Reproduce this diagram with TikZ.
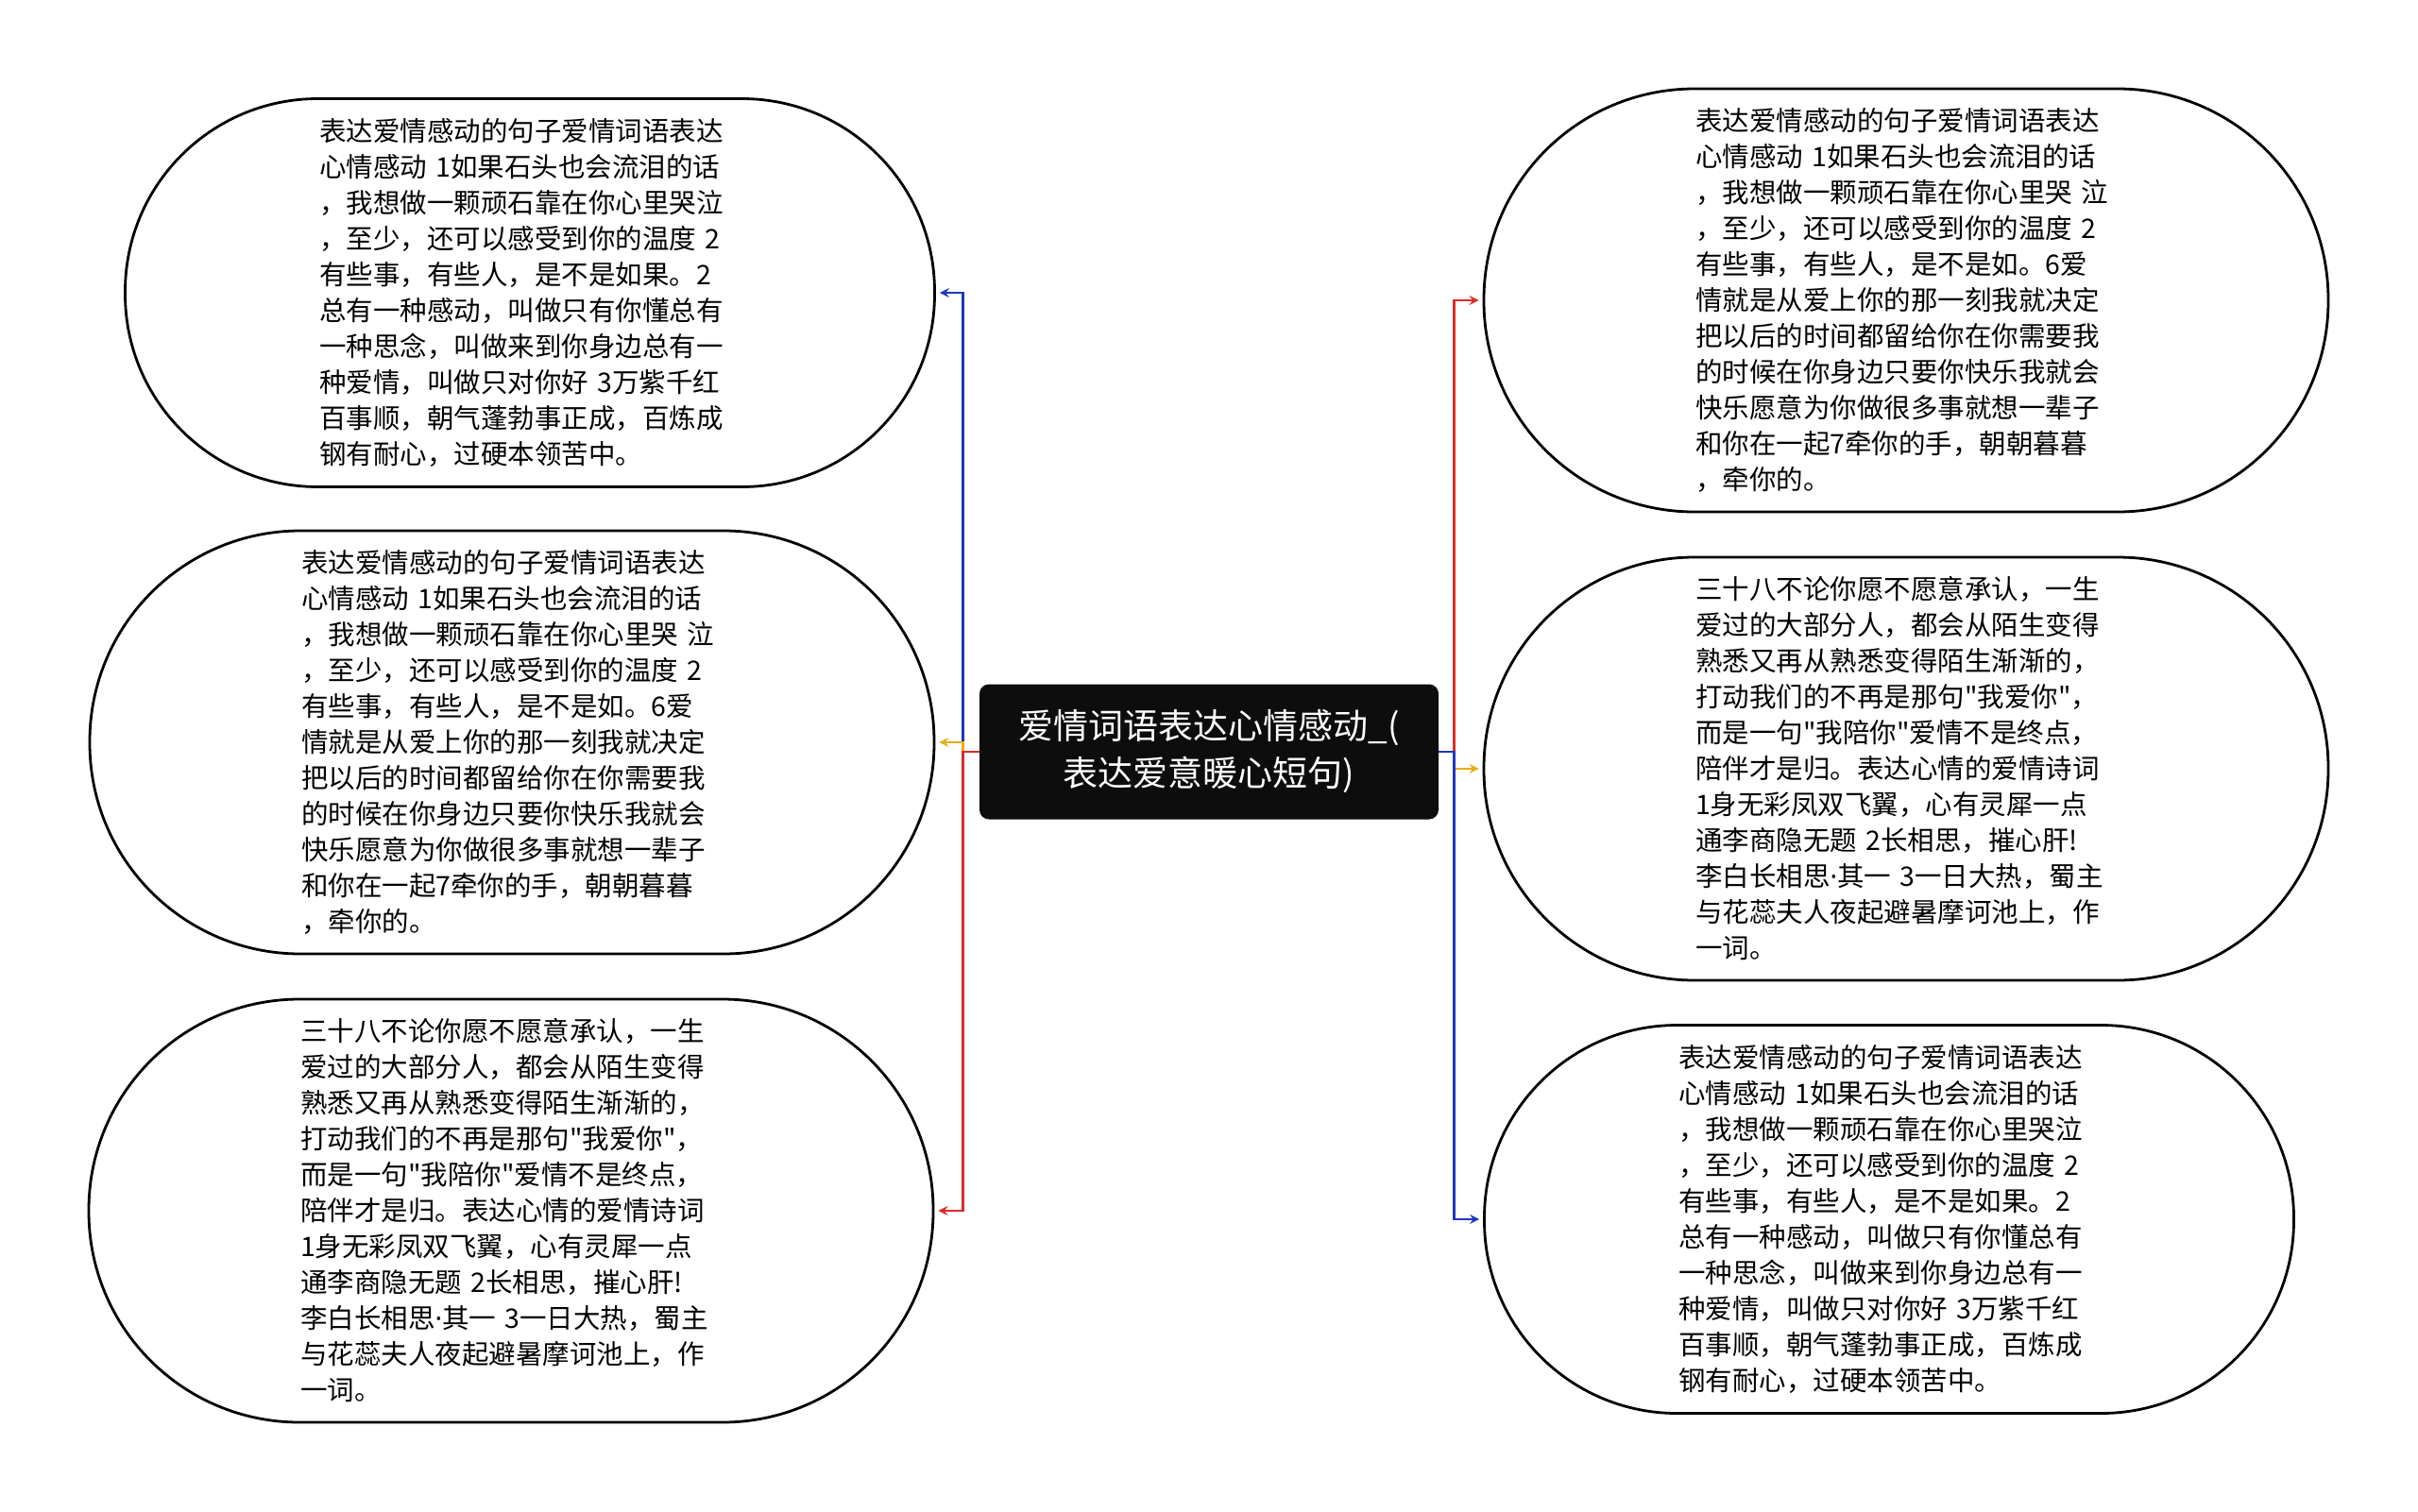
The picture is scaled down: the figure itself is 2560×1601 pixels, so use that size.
\documentclass[tikz,border=0pt]{standalone}
\usepackage{fontspec}
\newfontfamily\cjk{Noto Sans CJK SC}
\newfontfamily\latin{Noto Sans}
\definecolor{edgeblue}{RGB}{30,55,190}
\definecolor{edgered}{RGB}{215,45,40}
\definecolor{edgeyellow}{RGB}{232,172,20}
\definecolor{rootfill}{RGB}{13,13,13}

\begin{document}
\begin{tikzpicture}[x=0.5pt,y=-0.5pt]
    % Define styles
    \tikzstyle{topic}=[rectangle,draw,line width=1.4pt,fill=white,inner sep=0pt,text width=223pt,align=left,font=\cjk\fontsize{14.25}{19}\selectfont]
    \tikzstyle{topicten}=[topic,minimum width=428.5pt,minimum height=205.5pt,rounded corners=102pt]
    \tikzstyle{topiceleven}=[topic,minimum width=447pt,minimum height=224pt,rounded corners=111.5pt]
    \tikzstyle{root}=[rectangle,rounded corners=5pt,fill=rootfill,text=white,minimum width=243pt,minimum height=71.5pt,align=center,font=\cjk\fontsize{18.5}{25}\selectfont]
    \tikzstyle{blueedge}=[line width=1.2pt,->,>=stealth,color=edgeblue,shorten >=2pt]
    \tikzstyle{rededge}=[line width=1.2pt,->,>=stealth,color=edgered,shorten >=2pt]
    \tikzstyle{yellowedge}=[line width=1.2pt,->,>=stealth,color=edgeyellow,shorten >=2pt]

    \useasboundingbox (0,0) rectangle (2560,1601);

    % Draw the root
    \node[root] (0) at (1280,796) {爱情词语表达心情感动\_(\\表达爱意暖心短句)};

    % Draw the left nodes
    \node[topicten] (1) at (561,310) {表达爱情感动的句子爱情词语表达\\心情感动 1如果石头也会流泪的话\\，我想做一颗顽石靠在你心里哭泣\\，至少，还可以感受到你的温度 2\\有些事，有些人，是不是如果。2\\总有一种感动，叫做只有你懂总有\\一种思念，叫做来到你身边总有一\\种爱情，叫做只对你好 3万紫千红\\百事顺，朝气蓬勃事正成，百炼成\\钢有耐心，过硬本领苦中。};
    \node[topiceleven] (2) at (542,786) {表达爱情感动的句子爱情词语表达\\心情感动 1如果石头也会流泪的话\\，我想做一颗顽石靠在你心里哭 泣\\，至少，还可以感受到你的温度 2\\有些事，有些人，是不是如。6爱\\情就是从爱上你的那一刻我就决定\\把以后的时间都留给你在你需要我\\的时候在你身边只要你快乐我就会\\快乐愿意为你做很多事就想一辈子\\和你在一起7牵你的手，朝朝暮暮\\，牵你的。};
    \node[topiceleven] (3) at (541,1282) {三十八不论你愿不愿意承认，一生\\爱过的大部分人，都会从陌生变得\\熟悉又再从熟悉变得陌生渐渐的，\\打动我们的不再是那句"我爱你"，\\而是一句"我陪你"爱情不是终点，\\陪伴才是归。表达心情的爱情诗词\\1身无彩凤双飞翼，心有灵犀一点\\通李商隐无题 2长相思，摧心肝!\\李白长相思{\latin ·}其一 3一日大热，蜀主\\与花蕊夫人夜起避暑摩诃池上，作\\一词。};

    % Draw the right nodes
    \node[topiceleven] (4) at (2018,318) {表达爱情感动的句子爱情词语表达\\心情感动 1如果石头也会流泪的话\\，我想做一颗顽石靠在你心里哭 泣\\，至少，还可以感受到你的温度 2\\有些事，有些人，是不是如。6爱\\情就是从爱上你的那一刻我就决定\\把以后的时间都留给你在你需要我\\的时候在你身边只要你快乐我就会\\快乐愿意为你做很多事就想一辈子\\和你在一起7牵你的手，朝朝暮暮\\，牵你的。};
    \node[topiceleven] (5) at (2018,814) {三十八不论你愿不愿意承认，一生\\爱过的大部分人，都会从陌生变得\\熟悉又再从熟悉变得陌生渐渐的，\\打动我们的不再是那句"我爱你"，\\而是一句"我陪你"爱情不是终点，\\陪伴才是归。表达心情的爱情诗词\\1身无彩凤双飞翼，心有灵犀一点\\通李商隐无题 2长相思，摧心肝!\\李白长相思{\latin ·}其一 3一日大热，蜀主\\与花蕊夫人夜起避暑摩诃池上，作\\一词。};
    \node[topicten] (6) at (2000,1291) {表达爱情感动的句子爱情词语表达\\心情感动 1如果石头也会流泪的话\\，我想做一颗顽石靠在你心里哭泣\\，至少，还可以感受到你的温度 2\\有些事，有些人，是不是如果。2\\总有一种感动，叫做只有你懂总有\\一种思念，叫做来到你身边总有一\\种爱情，叫做只对你好 3万紫千红\\百事顺，朝气蓬勃事正成，百炼成\\钢有耐心，过硬本领苦中。};

    % Draw the edges
    \draw[blueedge] (0.west) -- ++(-17,0) |- (1.east);
    \draw[yellowedge] (0.west) -- ++(-17,0) |- (2.east);
    \draw[rededge] (0.west) -- ++(-17,0) |- (3.east);
    \draw[rededge] (0.east) -- ++(16,0) |- (4.west);
    \draw[yellowedge] (0.east) -- ++(16,0) |- (5.west);
    \draw[blueedge] (0.east) -- ++(16,0) |- (6.west);
\end{tikzpicture}
\end{document}
